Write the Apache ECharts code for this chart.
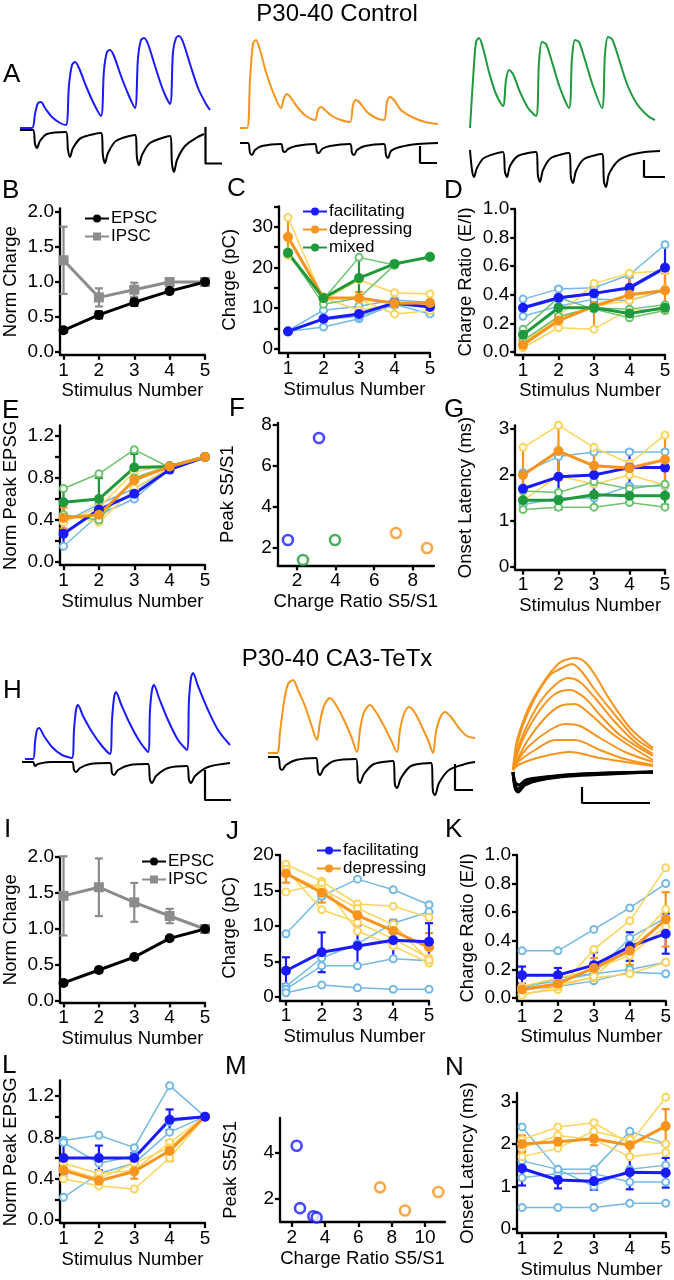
<!DOCTYPE html>
<html><head><meta charset="utf-8">
<script src="https://cdn.jsdelivr.net/npm/echarts@6/dist/echarts.min.js"></script>
<style>html,body{margin:0;padding:0;background:#fff}#c{width:674px;height:1280px}</style>
</head><body><div id="c"></div>
<script>
// ---------------- DATA ----------------
const stim = [1, 2, 3, 4, 5];
const stimTicks = [1, 2, 3, 4, 5];

// Panel B (control, norm charge)
const bEpsc = [0.31, 0.53, 0.71, 0.87, 1.0];
const bEpscErr = [0.03, 0.05, 0.05, 0.03, 0];
const bIpsc = [1.31, 0.78, 0.89, 1.0, 1.0];
const bIpscErr = [0.48, 0.13, 0.10, 0.04, 0];
const bYTicks = [0, 0.5, 1.0, 1.5, 2.0];

// Panel C (charge pC)
const cFac = [4.3, 7.4, 8.6, 11.3, 10.3];
const cFacErr = [0.4, 2.0, 1.5, 1.0, 1.5];
const cDep = [27.5, 12.5, 12.5, 11.2, 11.3];
const cDepErr = [4.8, 0.6, 1.5, 2.5, 2.0];
const cMix = [23.6, 12.5, 17.4, 20.9, 22.6];
const cMixErr = [0.6, 0.6, 5.0, 0.3, 0.3];
const cFacCells = [[4.5, 9.5, 10.5, 12.0, 11.5], [4.3, 5.4, 7.4, 11.0, 8.6], [4.2, 7.2, 8.0, 10.8, 10.5]];
const cDepCells = [[32.3, 12.0, 17.0, 13.8, 13.5], [23.0, 12.8, 12.2, 8.6, 9.4], [27.3, 12.5, 9.5, 11.0, 11.2]];
const cMixCells = [[23.8, 12.2, 22.5, 20.6, 22.8], [23.6, 11.0, 12.5, 20.6, 22.8]];
const cYTicks = [0, 5, 10, 15, 20, 25, 30, 35];
const cYLabels = [0, 10, 20, 30];

// Panel D (charge ratio E/I)
const dFac = [0.31, 0.38, 0.41, 0.45, 0.59];
const dFacErr = [0.06, 0.07, 0.06, 0.09, 0.16];
const dDep = [0.05, 0.22, 0.32, 0.40, 0.43];
const dDepErr = [0.02, 0.04, 0.15, 0.12, 0.12];
const dMix = [0.12, 0.31, 0.31, 0.27, 0.31];
const dMixErr = [0.04, 0.05, 0.02, 0.03, 0.03];
const dFacCells = [[0.37, 0.44, 0.45, 0.54, 0.75], [0.25, 0.32, 0.37, 0.36, 0.43], [0.30, 0.37, 0.41, 0.44, 0.58]];
const dDepCells = [[0.06, 0.25, 0.48, 0.55, 0.57], [0.03, 0.17, 0.16, 0.30, 0.29], [0.06, 0.24, 0.32, 0.36, 0.44]];
const dMixCells = [[0.16, 0.38, 0.30, 0.24, 0.29], [0.08, 0.25, 0.31, 0.30, 0.33]];
const ratioTicks = [0, 0.2, 0.4, 0.6, 0.8, 1.0];

// Panel E (norm peak EPSG)
const eFac = [0.27, 0.50, 0.65, 0.88, 1.0];
const eFacErr = [0.12, 0.08, 0.05, 0.02, 0];
const eDep = [0.42, 0.45, 0.78, 0.91, 1.0];
const eDepErr = [0.10, 0.07, 0.10, 0.02, 0];
const eMix = [0.57, 0.60, 0.90, 0.91, 1.0];
const eMixErr = [0.13, 0.20, 0.13, 0.01, 0];
const eFacCells = [[0.15, 0.45, 0.60, 0.89, 1.0], [0.38, 0.55, 0.70, 0.88, 1.0]];
const eDepCells = [[0.45, 0.38, 0.70, 0.90, 1.0], [0.38, 0.52, 0.86, 0.92, 1.0]];
const eMixCells = [[0.70, 0.84, 1.07, 0.90, 1.0], [0.45, 0.40, 0.80, 0.92, 1.0]];
const peakTicks = [0, 0.2, 0.4, 0.6, 0.8, 1.0, 1.2];
const peakLabels = [0, 0.4, 0.8, 1.2];

// Panel F (peak vs charge ratio)
const fFacX = [1.53, 3.14];
const fFacY = [2.39, 7.37];
const fMixX = [2.31, 3.97];
const fMixY = [1.41, 2.39];
const fDepX = [7.13, 8.74];
const fDepY = [2.73, 2.0];
const fXTicks = [2, 4, 6, 8];
const fYTicks = [2, 4, 6, 8];

// Panel G (onset latency)
const gFac = [1.70, 1.96, 2.00, 2.16, 2.16];
const gFacErr = [0.35, 0.45, 0.50, 0.38, 0.38];
const gDep = [2.00, 2.52, 2.20, 2.15, 2.33];
const gDepErr = [0.60, 0.55, 0.40, 0.15, 0.55];
const gMix = [1.45, 1.45, 1.57, 1.55, 1.55];
const gMixErr = [0.20, 0.20, 0.25, 0.15, 0.20];
const gFacCells = [[2.05, 2.40, 2.50, 2.50, 2.50], [1.35, 1.50, 1.50, 1.76, 1.76]];
const gDepCells = [[2.60, 3.08, 2.60, 2.25, 2.87], [1.45, 1.98, 1.80, 2.00, 1.78]];
const gMixCells = [[1.25, 1.30, 1.30, 1.40, 1.30], [1.65, 1.62, 1.85, 1.70, 1.80]];
const latTicks = [0, 1, 2, 3];

// Panel I (TeTx norm charge)
const iEpsc = [0.25, 0.43, 0.61, 0.87, 1.0];
const iEpscErr = [0.03, 0.03, 0.03, 0.02, 0];
const iIpsc = [1.46, 1.58, 1.37, 1.18, 1.0];
const iIpscErr = [0.55, 0.40, 0.27, 0.10, 0];

// Panel J (TeTx charge pC)
const jFac = [3.7, 6.3, 7.2, 8.0, 7.8];
const jFacErr = [1.9, 2.8, 2.9, 2.7, 2.6];
const jDep = [17.4, 14.7, 11.5, 9.3, 7.0];
const jDepErr = [1.3, 1.4, 1.0, 1.6, 2.0];
const jFacCells = [[8.9, 14.2, 16.6, 15.1, 13.0], [1.5, 5.5, 7.5, 10.4, 12.0], [1.1, 4.4, 4.4, 5.4, 5.1], [0.6, 1.7, 1.3, 1.1, 1.1]];
const jDepCells = [[18.7, 16.3, 13.1, 12.8, 11.2], [14.8, 16.0, 9.3, 7.2, 4.8], [18.0, 12.3, 10.5, 8.2, 5.5], [17.4, 15.2, 12.5, 10.2, 5.2]];
const jYTicks = [0, 5, 10, 15, 20];

// Panel K (TeTx charge ratio)
const kFac = [0.16, 0.16, 0.23, 0.36, 0.45];
const kFacErr = [0.06, 0.05, 0.09, 0.10, 0.14];
const kDep = [0.06, 0.10, 0.21, 0.33, 0.55];
const kDepErr = [0.02, 0.03, 0.07, 0.10, 0.19];
const kFacCells = [[0.33, 0.33, 0.48, 0.63, 0.80], [0.08, 0.12, 0.17, 0.42, 0.56], [0.06, 0.08, 0.12, 0.18, 0.17], [0.07, 0.14, 0.17, 0.20, 0.25]];
const kDepCells = [[0.03, 0.06, 0.34, 0.54, 0.91], [0.05, 0.10, 0.14, 0.17, 0.25], [0.08, 0.14, 0.20, 0.30, 0.50], [0.02, 0.08, 0.15, 0.36, 0.62]];

// Panel L (TeTx norm peak EPSG)
const lFac = [0.60, 0.60, 0.60, 0.97, 1.0];
const lFacErr = [0.15, 0.12, 0.05, 0.10, 0];
const lDep = [0.48, 0.38, 0.47, 0.67, 1.0];
const lDepErr = [0.06, 0.05, 0.07, 0.10, 0];
const lFacCells = [[0.77, 0.82, 0.70, 1.30, 1.0], [0.22, 0.45, 0.55, 0.85, 1.0], [0.75, 0.55, 0.62, 0.95, 1.0]];
const lDepCells = [[0.40, 0.33, 0.30, 0.60, 1.0], [0.55, 0.45, 0.48, 0.75, 1.0], [0.50, 0.40, 0.55, 0.70, 1.0]];

// Panel M (TeTx peak vs ratio)
const mFacX = [2.3, 2.5, 3.3, 3.5];
const mFacY = [4.3, 1.6, 1.25, 1.2];
const mDepX = [7.3, 8.8, 10.8];
const mDepY = [2.5, 1.5, 2.3];
const mXTicks = [2, 4, 6, 8, 10];
const mYTicks = [2, 4];

// Panel N (TeTx onset latency)
const nFac = [1.42, 1.15, 1.12, 1.33, 1.32];
const nFacErr = [0.40, 0.20, 0.20, 0.40, 0.35];
const nDep = [2.00, 2.05, 2.12, 1.97, 2.42];
const nDepErr = [0.20, 0.15, 0.15, 0.25, 0.40];
const nFacCells = [[2.4, 1.4, 1.4, 2.3, 2.0], [1.2, 1.3, 1.3, 1.1, 1.1], [0.5, 0.5, 0.5, 0.6, 0.6], [1.6, 1.4, 1.0, 1.4, 1.5]];
const nDepCells = [[2.1, 2.4, 2.5, 2.0, 3.1], [1.7, 1.9, 2.3, 2.1, 2.0], [1.9, 2.2, 2.1, 1.7, 1.8]];

// Example traces [time, amplitude] (arbitrary units)
const a1Blue = [[0,52],[12,52],[15,66],[18,77],[21,78],[25,72],[32,63],[40,57],[46,55],[49,95],[52,115],[55,118],[59,112],[66,94],[74,76],[81,64],[84,110],[87,128],[90,130],[94,124],[101,104],[109,84],[115,72],[118,122],[121,140],[124,142],[128,136],[135,114],[143,90],[150,76],[153,128],[156,142],[159,144],[163,138],[170,116],[178,92],[186,76],[190,70]];
const a1Black = [[0,50],[13,50],[15,36],[17,32],[20,39],[27,46],[46,48],[48,30],[50,23],[53,32],[61,42],[81,47],[83,24],[85,17],[88,27],[96,39],[115,45],[117,22],[119,15],[122,25],[130,37],[150,44],[152,16],[154,8],[157,20],[165,34],[176,42],[184,46]];
const a1Bar = [[185.5,53],[185.5,16.5],[202,16.5]];
const a2Orange = [[0,52],[7,52],[10,100],[13,136],[16,140],[20,130],[26,108],[33,88],[41,72],[44,82],[47,86],[51,82],[58,72],[66,64],[75,60],[78,70],[81,73],[85,70],[92,64],[101,60],[110,58],[113,75],[116,80],[120,77],[127,68],[136,62],[144,60],[147,78],[150,83],[154,80],[161,70],[172,63],[185,58],[198,56]];
const a2Black = [[0,37],[8,37],[10,27],[12,25],[15,30],[22,34],[41,36],[43,29],[45,28],[48,31],[56,34],[75,36],[77,28],[79,27],[82,31],[90,34],[110,36],[112,27],[114,25],[117,30],[125,34],[144,36],[146,25],[148,22],[151,29],[160,33],[178,36],[198,37]];
const a2Bar = [[180,34],[180,17],[197,17]];
const a3Green = [[10,52],[13,100],[16,138],[19,142],[23,132],[29,108],[36,86],[43,74],[46,100],[49,110],[53,106],[60,88],[68,72],[76,64],[79,118],[82,138],[86,136],[92,118],[100,92],[109,72],[112,122],[115,140],[119,138],[125,120],[133,94],[142,72],[145,126],[148,143],[152,141],[158,124],[167,96],[177,76],[188,64],[195,60]];
const a3Black = [[10,30],[12,10],[14,3],[17,12],[24,22],[43,28],[45,8],[47,3],[50,14],[58,24],[76,28],[78,4],[80,-2],[83,10],[91,22],[109,27],[111,2],[113,-3],[116,9],[124,21],[142,26],[144,-2],[146,-7],[149,6],[158,19],[170,25],[185,28],[200,29]];
const a3Bar = [[184,20],[184,3],[205,3]];
const h1Blue = [[5,31],[13,31],[15,48],[17,60],[19,62],[24,54],[32,43],[42,35],[52,32],[54,60],[56,80],[58,85],[63,74],[72,58],[82,44],[90,36],[92,70],[94,92],[96,98],[101,86],[110,66],[120,48],[128,38],[130,80],[132,100],[134,105],[139,92],[148,70],[158,50],[167,40],[169,90],[171,112],[173,117],[178,104],[188,80],[198,60],[210,45]];
const h1Black = [[2,28],[13,28],[15,24],[18,26],[30,28],[52,28],[54,20],[56,18],[60,22],[70,26],[90,27],[92,17],[94,15],[98,20],[110,25],[128,26],[130,10],[132,7],[136,14],[148,22],[167,24],[169,10],[171,7],[175,14],[188,23],[210,27]];
const h1Bar = [[185,20],[185,-10],[211,-10]];
const h2Orange = [[8,37],[17,37],[20,58],[24,88],[28,106],[33,110],[38,100],[45,84],[51,66],[57,50],[60,68],[64,84],[70,92],[76,85],[84,70],[91,54],[97,38],[100,60],[104,78],[110,85],[116,78],[124,64],[131,50],[137,38],[140,60],[144,76],[149,83],[155,77],[162,63],[168,50],[173,37],[176,58],[180,72],[185,78],[191,73],[199,62],[207,54],[215,52]];
const h2Black = [[8,33],[18,33],[20,22],[22,20],[26,25],[36,30],[56,32],[58,18],[60,15],[64,22],[74,29],[96,31],[98,10],[100,7],[104,16],[114,26],[133,29],[135,5],[137,2],[141,12],[151,24],[171,27],[173,-2],[175,-5],[179,7],[189,20],[205,26],[215,28]];
const h2Bar = [[195,26],[195,0],[213,0]];
const h3Orange = [
  [[13,20],[16,45],[20,60],[30,85],[45,110],[58,126],[65,130],[75,132],[85,128],[95,115],[110,90],[130,62],[153,42]],
  [[13,20],[16,40],[22,62],[35,92],[50,115],[62,122],[72,126],[82,118],[95,100],[115,75],[135,52],[153,40]],
  [[13,20],[17,38],[25,60],[40,88],[55,105],[68,112],[80,108],[95,92],[115,68],[135,48],[153,36]],
  [[13,20],[17,35],[25,55],[40,80],[55,96],[70,100],[85,92],[100,75],[120,55],[153,34]],
  [[13,20],[17,30],[28,50],[45,72],[60,84],[75,86],[90,76],[110,58],[130,44],[153,30]],
  [[13,20],[18,30],[30,45],[50,60],[65,66],[80,64],[100,52],[125,38],[153,28]],
  [[13,20],[18,28],[35,40],[55,50],[75,50],[100,40],[125,31],[153,25]],
  [[13,20],[20,26],[45,34],[70,38],[100,32],[153,24]]
];
const h3Black = [
  [[13,18],[15,2],[18,-2],[25,5],[40,10],[70,14],[110,16],[153,18]],
  [[13,18],[15,5],[18,1],[25,7],[40,12],[70,15],[110,17],[153,18]],
  [[13,18],[15,8],[19,5],[26,10],[45,13],[80,16],[153,18]]
];
const h3Bar = [[82,3],[82,-13],[150,-13]];

// ---------------- STYLE ----------------
const FONT = '"Liberation Sans", Arial, Helvetica, sans-serif';
const BLUE = '#1a1aff', ORANGE = '#f7941d', GREEN = '#1e9a3c', GRAY = '#8c8c8c';
const LBLUE = '#74b9e3', LYELLOW = '#fcd45a', LGREEN = '#6cc36c';

const grids = [], xAxes = [], yAxes = [], series = [];

function addTraceGrid(left, top, width, height, xmax, ymin, ymax) {
  const gi = grids.length;
  grids.push({left, top, width, height});
  xAxes.push({type:'value', gridIndex:gi, min:0, max:xmax, show:false});
  yAxes.push({type:'value', gridIndex:gi, min:ymin, max:ymax, show:false});
  return gi;
}
function trace(gi, data, color, width, smooth) {
  series.push({type:'line', xAxisIndex:gi, yAxisIndex:gi, data, symbol:'none',
    smooth: smooth === undefined ? 0.3 : smooth, lineStyle:{color, width: width || 2}, silent:true});
}
function fmt1(v) { return v.toFixed(1); }
function fmt0(v) { return String(Math.round(v)); }

function addPlot(o) {
  const gi = grids.length;
  grids.push({left:o.left, top:o.top, width:o.width, height:o.height});
  const line = {show:true, onZero:false, lineStyle:{color:'#000', width:2.3}};
  const tick = (vals) => ({show:true, inside:false, length:5, lineStyle:{color:'#000', width:2.3}, customValues:vals});
  xAxes.push({type:'value', gridIndex:gi, min:o.xmin, max:o.xmax,
    name:o.xname, nameLocation:'middle', nameGap:o.xgap || 27,
    nameTextStyle:{fontSize:18.5, color:'#000', fontFamily:FONT},
    axisLine:line, axisTick:tick(o.xticks),
    axisLabel:{show:true, customValues:o.xlabels || o.xticks, formatter:o.xfmt || fmt0, fontSize:19, color:'#000', fontFamily:FONT, margin:6},
    splitLine:{show:false}});
  yAxes.push({type:'value', gridIndex:gi, min:o.ymin, max:o.ymax,
    name:o.yname, nameLocation:'middle', nameGap:o.ygap || 40,
    nameTextStyle:{fontSize:18.5, color:'#000', fontFamily:FONT},
    axisLine:line, axisTick:tick(o.yticks),
    axisLabel:{show:true, customValues:o.ylabels || o.yticks, formatter:o.yfmt || fmt0, fontSize:19, color:'#000', fontFamily:FONT, margin:6},
    splitLine:{show:false}});
  return gi;
}
function cells(gi, rows, color) {
  rows.forEach(r => series.push({type:'line', xAxisIndex:gi, yAxisIndex:gi,
    data: stim.map((x, i) => [x, r[i]]), symbol:'emptyCircle', symbolSize:7,
    lineStyle:{color, width:1.5}, itemStyle:{color, borderColor:color, borderWidth:1.5}, silent:true}));
}
function errBar(gi, ys, es, color) {
  series.push({type:'custom', xAxisIndex:gi, yAxisIndex:gi, silent:true,
    data: stim.map((x, i) => [x, ys[i] - es[i], ys[i] + es[i]]).filter(d => d[2] > d[1]),
    encode:{x:0, y:[1, 2]},
    renderItem(params, api) {
      const x = api.value(0);
      const lo = api.coord([x, api.value(1)]);
      const hi = api.coord([x, api.value(2)]);
      const w = 4;
      const st = {stroke:color, lineWidth:2.2};
      return {type:'group', children:[
        {type:'line', shape:{x1:lo[0], y1:lo[1], x2:hi[0], y2:hi[1]}, style:st},
        {type:'line', shape:{x1:hi[0]-w, y1:hi[1], x2:hi[0]+w, y2:hi[1]}, style:st},
        {type:'line', shape:{x1:lo[0]-w, y1:lo[1], x2:lo[0]+w, y2:lo[1]}, style:st}
      ]};
    }});
}
function mean(gi, name, ys, es, color, symbol) {
  errBar(gi, ys, es, color);
  series.push({type:'line', name, xAxisIndex:gi, yAxisIndex:gi,
    data: stim.map((x, i) => [x, ys[i]]), symbol: symbol || 'circle', symbolSize:10,
    lineStyle:{color, width:3}, itemStyle:{color}});
}
function scatter(gi, xs, ys, color) {
  series.push({type:'scatter', xAxisIndex:gi, yAxisIndex:gi,
    data: xs.map((x, i) => [x, ys[i]]), symbol:'circle', symbolSize:10,
    itemStyle:{color:'#fff', borderColor:color, borderWidth:2.6}});
}

// ---------------- TRACES ----------------
let g;
g = addTraceGrid(20, 30, 210, 160, 210, -10, 150);
trace(g, a1Blue, BLUE); trace(g, a1Black, '#000'); trace(g, a1Bar, '#000', 2.2, false);
g = addTraceGrid(240, 30, 210, 160, 210, -10, 150);
trace(g, a2Orange, ORANGE); trace(g, a2Black, '#000'); trace(g, a2Bar, '#000', 2.2, false);
g = addTraceGrid(460, 30, 210, 160, 210, -10, 150);
trace(g, a3Green, GREEN); trace(g, a3Black, '#000'); trace(g, a3Bar, '#000', 2.2, false);

g = addTraceGrid(20, 640, 220, 170, 220, -20, 150);
trace(g, h1Blue, BLUE); trace(g, h1Black, '#000'); trace(g, h1Bar, '#000', 2.2, false);
g = addTraceGrid(260, 640, 220, 170, 220, -20, 150);
trace(g, h2Orange, ORANGE); trace(g, h2Black, '#000'); trace(g, h2Bar, '#000', 2.2, false);
g = addTraceGrid(500, 640, 170, 170, 170, -20, 150);
h3Orange.forEach(t => trace(g, t, ORANGE, 2));
h3Black.forEach(t => trace(g, t, '#000', 3));
trace(g, h3Bar, '#000', 2.2, false);

// ---------------- PLOTS ----------------
// B
g = addPlot({left:59.5, top:208.5, width:145.5, height:146.3, xmin:0.9, xmax:5, ymin:-0.04, ymax:2.05,
  xticks:stimTicks, yticks:bYTicks, yfmt:fmt1, xname:'Stimulus Number', yname:'Norm Charge'});
mean(g, 'IPSC', bIpsc, bIpscErr, GRAY, 'rect');
mean(g, 'EPSC', bEpsc, bEpscErr, '#000', 'circle');

// C
g = addPlot({left:279.1, top:206.5, width:150.9, height:146.5, xmin:0.75, xmax:5, ymin:-1, ymax:35,
  xticks:stimTicks, yticks:cYTicks, ylabels:cYLabels, xname:'Stimulus Number', yname:'Charge (pC)'});
cells(g, cFacCells, LBLUE); cells(g, cDepCells, LYELLOW); cells(g, cMixCells, LGREEN);
mean(g, 'facilitating', cFac, cFacErr, BLUE);
mean(g, 'depressing', cDep, cDepErr, ORANGE);
mean(g, 'mixed', cMix, cMixErr, GREEN);

// D
g = addPlot({left:515.2, top:209, width:149.8, height:145.9, xmin:0.78, xmax:5, ymin:-0.02, ymax:1.0,
  xticks:stimTicks, yticks:ratioTicks, yfmt:fmt1, xname:'Stimulus Number', yname:'Charge Ratio (E/I)'});
cells(g, dFacCells, LBLUE); cells(g, dDepCells, LYELLOW); cells(g, dMixCells, LGREEN);
mean(g, 'facilitating', dFac, dFacErr, BLUE);
mean(g, 'depressing', dDep, dDepErr, ORANGE);
mean(g, 'mixed', dMix, dMixErr, GREEN);

// E
g = addPlot({left:59.5, top:425.5, width:145.5, height:139.7, xmin:0.9, xmax:5, ymin:-0.03, ymax:1.3,
  xticks:stimTicks, yticks:peakTicks, ylabels:peakLabels, yfmt:fmt1, xname:'Stimulus Number', yname:'Norm Peak EPSG'});
cells(g, eFacCells, LBLUE); cells(g, eDepCells, LYELLOW); cells(g, eMixCells, LGREEN);
mean(g, 'facilitating', eFac, eFacErr, BLUE);
mean(g, 'mixed', eMix, eMixErr, GREEN);
mean(g, 'depressing', eDep, eDepErr, ORANGE);

// F
g = addPlot({left:277.7, top:423, width:156.3, height:142.4, xmin:1, xmax:9.1, ymin:1.15, ymax:8.1,
  xticks:fXTicks, yticks:fYTicks, xname:'Charge Ratio S5/S1', yname:'Peak S5/S1'});
scatter(g, fFacX, fFacY, BLUE); scatter(g, fMixX, fMixY, GREEN); scatter(g, fDepX, fDepY, ORANGE);

// G
g = addPlot({left:515.2, top:425.3, width:149.8, height:144.4, xmin:0.78, xmax:5, ymin:-0.06, ymax:3.08,
  xticks:stimTicks, yticks:latTicks, xname:'Stimulus Number', yname:'Onset Latency (ms)'});
cells(g, gFacCells, LBLUE); cells(g, gDepCells, LYELLOW); cells(g, gMixCells, LGREEN);
mean(g, 'mixed', gMix, gMixErr, GREEN);
mean(g, 'facilitating', gFac, gFacErr, BLUE);
mean(g, 'depressing', gDep, gDepErr, ORANGE);

// I
g = addPlot({left:59.5, top:857, width:145.5, height:145.4, xmin:0.9, xmax:5, ymin:-0.02, ymax:2.0,
  xticks:stimTicks, yticks:bYTicks, yfmt:fmt1, xname:'Stimulus Number', yname:'Norm Charge'});
mean(g, 'IPSC', iIpsc, iIpscErr, GRAY, 'rect');
mean(g, 'EPSC', iEpsc, iEpscErr, '#000', 'circle');

// J
g = addPlot({left:279.9, top:855, width:149.1, height:145.6, xmin:0.83, xmax:5, ymin:-0.5, ymax:20,
  xticks:stimTicks, yticks:jYTicks, xname:'Stimulus Number', yname:'Charge (pC)'});
cells(g, jFacCells, LBLUE); cells(g, jDepCells, LYELLOW);
mean(g, 'depressing', jDep, jDepErr, ORANGE);
mean(g, 'facilitating', jFac, jFacErr, BLUE);

// K
g = addPlot({left:517, top:855, width:149, height:145.9, xmin:0.86, xmax:5, ymin:-0.02, ymax:1.0,
  xticks:stimTicks, yticks:ratioTicks, yfmt:fmt1, xname:'Stimulus Number', yname:'Charge Ratio (E/I)'});
cells(g, kFacCells, LBLUE); cells(g, kDepCells, LYELLOW);
mean(g, 'facilitating', kFac, kFacErr, BLUE);
mean(g, 'depressing', kDep, kDepErr, ORANGE);

// L
g = addPlot({left:59.5, top:1080.5, width:145.5, height:142.6, xmin:0.9, xmax:5, ymin:-0.03, ymax:1.35,
  xticks:stimTicks, yticks:peakTicks, ylabels:peakLabels, yfmt:fmt1, xname:'Stimulus Number', yname:'Norm Peak EPSG'});
cells(g, lFacCells, LBLUE); cells(g, lDepCells, LYELLOW);
mean(g, 'depressing', lDep, lDepErr, ORANGE);
mean(g, 'facilitating', lFac, lFacErr, BLUE);

// M
g = addPlot({left:280, top:1118, width:165, height:104, xmin:1.3, xmax:11.2, ymin:1, ymax:5.5,
  xticks:mXTicks, yticks:mYTicks, xname:'Charge Ratio S5/S1', yname:'Peak S5/S1'});
scatter(g, mFacX, mFacY, BLUE); scatter(g, mDepX, mDepY, ORANGE);

// N
g = addPlot({left:517, top:1093, width:149, height:148.5, xmin:0.86, xmax:5, ymin:-0.1, ymax:3.2,
  xticks:stimTicks, yticks:latTicks, xname:'Stimulus Number', yname:'Onset Latency (ms)'});
cells(g, nFacCells, LBLUE); cells(g, nDepCells, LYELLOW);
mean(g, 'facilitating', nFac, nFacErr, BLUE);
mean(g, 'depressing', nDep, nDepErr, ORANGE);

// ---------------- TEXT ----------------
function letter(t, left, top) {
  return {text:t, left, top, padding:0, textStyle:{fontSize:26, fontWeight:'normal', color:'#000', fontFamily:FONT}};
}
const titles = [
  {text:'P30-40 Control', left:'center', top:2, padding:0, textStyle:{fontSize:24, fontWeight:'normal', color:'#000', fontFamily:FONT}},
  {text:'P30-40 CA3-TeTx', left:'center', top:647, padding:0, textStyle:{fontSize:24, fontWeight:'normal', color:'#000', fontFamily:FONT}},
  letter('A', 3, 62), letter('B', 2, 178), letter('C', 227, 176), letter('D', 444, 178),
  letter('E', 2, 398), letter('F', 229, 396), letter('G', 444, 397),
  letter('H', 3, 678), letter('I', 4, 817), letter('J', 226, 819), letter('K', 445, 817),
  letter('L', 2, 1053), letter('M', 225, 1054), letter('N', 445, 1055)
];
function leg(names, left, top) {
  return {data:names, left, top, orient:'vertical', itemWidth:24, itemHeight:10, itemGap:1, padding:0,
    selectedMode:false, textStyle:{fontSize:17, color:'#000', fontFamily:FONT, padding:[0,0,0,-3], lineHeight:16}};
}
const legends = [
  leg(['EPSC', 'IPSC'], 84, 210),
  leg(['facilitating', 'depressing', 'mixed'], 302, 203),
  leg(['EPSC', 'IPSC'], 141, 853),
  leg(['facilitating', 'depressing'], 316, 842)
];

const chart = echarts.init(document.getElementById('c'), null, {renderer:'canvas'});
chart.setOption({
  animation:false,
  backgroundColor:'#fff',
  title:titles,
  legend:legends,
  grid:grids,
  xAxis:xAxes,
  yAxis:yAxes,
  series
});
</script></body></html>
